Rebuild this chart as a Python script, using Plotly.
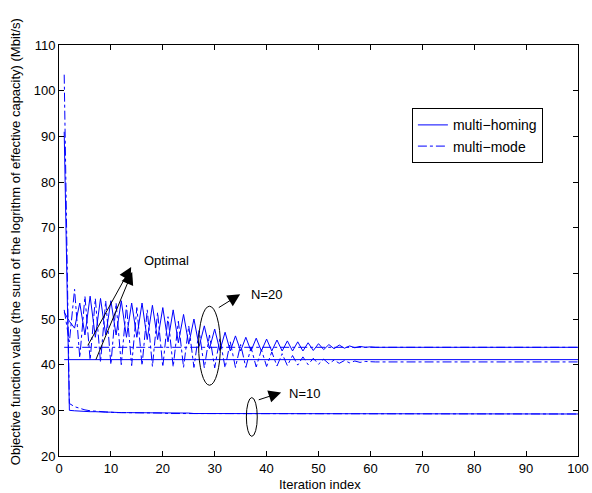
import plotly.graph_objects as go

iterations = list(range(1, 101))

# N=20, multi-homing (solid)
homing_n20 = [51.5, 49.5, 48.0, 53.5, 46.5, 55.0, 46.0, 54.5, 46.5, 54.0,
              46.5, 54.0, 46.0, 53.5, 46.0, 53.5, 45.5, 53.0, 45.5, 52.5,
              45.0, 52.0, 44.8, 51.0, 44.5, 50.0, 44.0, 48.5, 43.5, 47.8,
              43.1, 47.1, 43.0, 46.3, 43.0, 46.0, 43.0, 45.8, 43.0, 45.6,
              43.0, 45.4, 43.0, 45.2, 43.0, 45.0, 43.0, 44.8, 43.1, 44.6,
              43.3, 44.4, 43.5, 44.3, 43.6, 44.1, 43.7, 44.0, 43.8, 43.9,
              43.8, 43.8, 43.8, 43.8, 43.8, 43.8, 43.8, 43.8, 43.8, 43.8,
              43.8, 43.8, 43.8, 43.8, 43.8, 43.8, 43.8, 43.8, 43.8, 43.8,
              43.8, 43.8, 43.8, 43.8, 43.8, 43.8, 43.8, 43.8, 43.8, 43.8,
              43.8, 43.8, 43.8, 43.8, 43.8, 43.8, 43.8, 43.8, 43.8, 43.8]

# N=20, multi-mode (dash-dot)
mode_n20 = [52.0, 45.0, 56.5, 41.5, 55.0, 41.0, 54.5, 40.5, 54.0, 40.0,
            53.5, 40.0, 53.0, 39.8, 52.5, 39.8, 52.0, 39.6, 51.5, 39.5,
            50.5, 39.5, 49.5, 39.4, 48.5, 39.4, 47.5, 39.3, 46.5, 39.3,
            45.8, 39.3, 45.0, 39.4, 44.4, 39.4, 43.8, 39.5, 43.3, 39.6,
            42.8, 39.7, 42.4, 39.8, 42.0, 39.9, 41.7, 40.0, 41.4, 40.1,
            41.2, 40.2, 41.0, 40.3, 40.9, 40.4, 40.8, 40.5, 40.7, 40.6,
            40.6, 40.6, 40.6, 40.6, 40.6, 40.6, 40.6, 40.6, 40.6, 40.6,
            40.6, 40.6, 40.6, 40.6, 40.6, 40.6, 40.6, 40.6, 40.6, 40.6,
            40.6, 40.6, 40.6, 40.6, 40.6, 40.6, 40.6, 40.6, 40.6, 40.6,
            40.6, 40.6, 40.6, 40.6, 40.6, 40.6, 40.6, 40.6, 40.6, 40.6]

# N=10, multi-homing (solid)
homing_n10 = [91.0, 30.0, 29.9, 29.8, 29.8, 29.7, 29.7, 29.6, 29.6, 29.6,
              29.5, 29.5, 29.5, 29.5, 29.5, 29.4, 29.4, 29.4, 29.4, 29.4,
              29.4, 29.4, 29.4, 29.4, 29.4, 29.3, 29.3, 29.3, 29.3, 29.3,
              29.3, 29.3, 29.3, 29.3, 29.3, 29.3, 29.3, 29.3, 29.3, 29.3,
              29.3, 29.3, 29.3, 29.3, 29.3, 29.3, 29.3, 29.3, 29.3, 29.3,
              29.2, 29.2, 29.2, 29.2, 29.2, 29.2, 29.2, 29.2, 29.2, 29.2,
              29.2, 29.2, 29.2, 29.2, 29.2, 29.2, 29.2, 29.2, 29.2, 29.2,
              29.2, 29.2, 29.2, 29.2, 29.2, 29.2, 29.2, 29.2, 29.2, 29.2,
              29.2, 29.2, 29.2, 29.2, 29.2, 29.2, 29.2, 29.2, 29.2, 29.2,
              29.2, 29.2, 29.2, 29.2, 29.2, 29.2, 29.2, 29.2, 29.2, 29.2]

# N=10, multi-mode (dash-dot)
mode_n10 = [103.5, 31.5, 30.8, 30.4, 30.1, 29.9, 29.8, 29.7, 29.6, 29.6,
            29.5, 29.5, 29.5, 29.5, 29.4, 29.4, 29.4, 29.4, 29.4, 29.4,
            29.3, 29.3, 29.3, 29.3, 29.3, 29.3, 29.3, 29.3, 29.3, 29.3,
            29.3, 29.3, 29.3, 29.3, 29.3, 29.3, 29.3, 29.3, 29.3, 29.3,
            29.2, 29.2, 29.2, 29.2, 29.2, 29.2, 29.2, 29.2, 29.2, 29.2,
            29.2, 29.2, 29.2, 29.2, 29.2, 29.2, 29.2, 29.2, 29.2, 29.2,
            29.2, 29.2, 29.2, 29.2, 29.2, 29.2, 29.2, 29.2, 29.2, 29.2,
            29.2, 29.2, 29.2, 29.2, 29.2, 29.2, 29.2, 29.2, 29.2, 29.2,
            29.2, 29.2, 29.2, 29.2, 29.2, 29.2, 29.2, 29.2, 29.2, 29.2,
            29.2, 29.2, 29.2, 29.2, 29.2, 29.2, 29.2, 29.2, 29.2, 29.2]

# Optimal values (N=20)
optimal_solid = 41.1
optimal_dashdot = 43.8
opt_x = [1, 100]

BLUE = "#0000ff"
FONT = "Liberation Sans, Arial, Helvetica, sans-serif"

fig = go.Figure()

fig.add_trace(go.Scatter(x=opt_x, y=[optimal_dashdot, optimal_dashdot], mode="lines",
                         line=dict(color=BLUE, width=1, dash="dashdot"), showlegend=False))
fig.add_trace(go.Scatter(x=opt_x, y=[optimal_solid, optimal_solid], mode="lines",
                         line=dict(color=BLUE, width=1), showlegend=False))
fig.add_trace(go.Scatter(x=iterations, y=homing_n20, mode="lines", name="multi−homing",
                         line=dict(color=BLUE, width=1), legendrank=1))
fig.add_trace(go.Scatter(x=iterations, y=mode_n20, mode="lines", name="multi−mode",
                         line=dict(color=BLUE, width=1, dash="dashdot"), legendrank=2))
fig.add_trace(go.Scatter(x=iterations, y=homing_n10, mode="lines",
                         line=dict(color=BLUE, width=1), showlegend=False))
fig.add_trace(go.Scatter(x=iterations, y=mode_n10, mode="lines",
                         line=dict(color=BLUE, width=1, dash="dashdot"), showlegend=False))

axis_common = dict(showline=True, linecolor="black", linewidth=1, mirror="allticks",
                   ticks="inside", ticklen=5, tickcolor="black", showgrid=False,
                   zeroline=False, dtick=10, automargin=False,
                   tickfont=dict(family=FONT, size=13, color="black"))

fig.update_layout(
    width=592, height=493, autosize=False,
    margin=dict(l=59, r=14, t=45, b=37, pad=0),
    plot_bgcolor="white", paper_bgcolor="white",
    font=dict(family=FONT, size=12, color="black"),
    xaxis=dict(range=[0, 100], **axis_common),
    yaxis=dict(range=[20, 110], **axis_common),
    legend=dict(x=0.68, y=0.846, xanchor="left", yanchor="top",
                bordercolor="black", borderwidth=1, bgcolor="white",
                font=dict(family=FONT, size=14, color="black"),
                tracegroupgap=0),
    shapes=[
        dict(type="circle", xref="x", yref="y", x0=26.9, x1=31.1, y0=35.5, y1=52.8,
             line=dict(color="black", width=1)),
        dict(type="circle", xref="x", yref="y", x0=36.1, x1=38.2, y0=24.3, y1=32.8,
             line=dict(color="black", width=1)),
    ],
)

arrow_style = dict(xref="x", yref="y", axref="x", ayref="y", showarrow=True,
                   arrowhead=2, arrowsize=2.5, arrowwidth=1, arrowcolor="black", text="")
annotations = [
    dict(x=13.9, y=61.4, ax=5.4, ay=43.9, **arrow_style),
    dict(x=14.1, y=60.3, ax=7.0, ay=40.8, **arrow_style),
    dict(x=34.9, y=55.4, ax=30.5, ay=52.3, **arrow_style),
    dict(x=42.8, y=33.9, ax=38.2, ay=32.2, **arrow_style),
    dict(x=20.8, y=62.8, text="Optimal", showarrow=False, xref="x", yref="y",
         xanchor="center", yanchor="middle", font=dict(family=FONT, size=13)),
    dict(x=36.7, y=55.4, text="N=20", showarrow=False, xref="x", yref="y",
         xanchor="left", yanchor="middle", font=dict(family=FONT, size=13)),
    dict(x=44.0, y=33.7, text="N=10", showarrow=False, xref="x", yref="y",
         xanchor="left", yanchor="middle", font=dict(family=FONT, size=13)),
    dict(x=-0.085, y=0.5225, xref="paper", yref="paper", showarrow=False,
         xanchor="center", yanchor="middle",
         text="Objective function value (the sum of the logrithm of effective capacity) (Mbit/s)",
         textangle=-90, font=dict(family=FONT, size=13)),
    dict(x=0.503, y=-0.069, xref="paper", yref="paper", showarrow=False,
         xanchor="center", yanchor="middle",
         text="Iteration index", font=dict(family=FONT, size=13)),
]
fig.update_layout(annotations=annotations)

fig.write_html("out.html", config={"displayModeBar": False},
               post_script="document.body.style.margin='0';")
